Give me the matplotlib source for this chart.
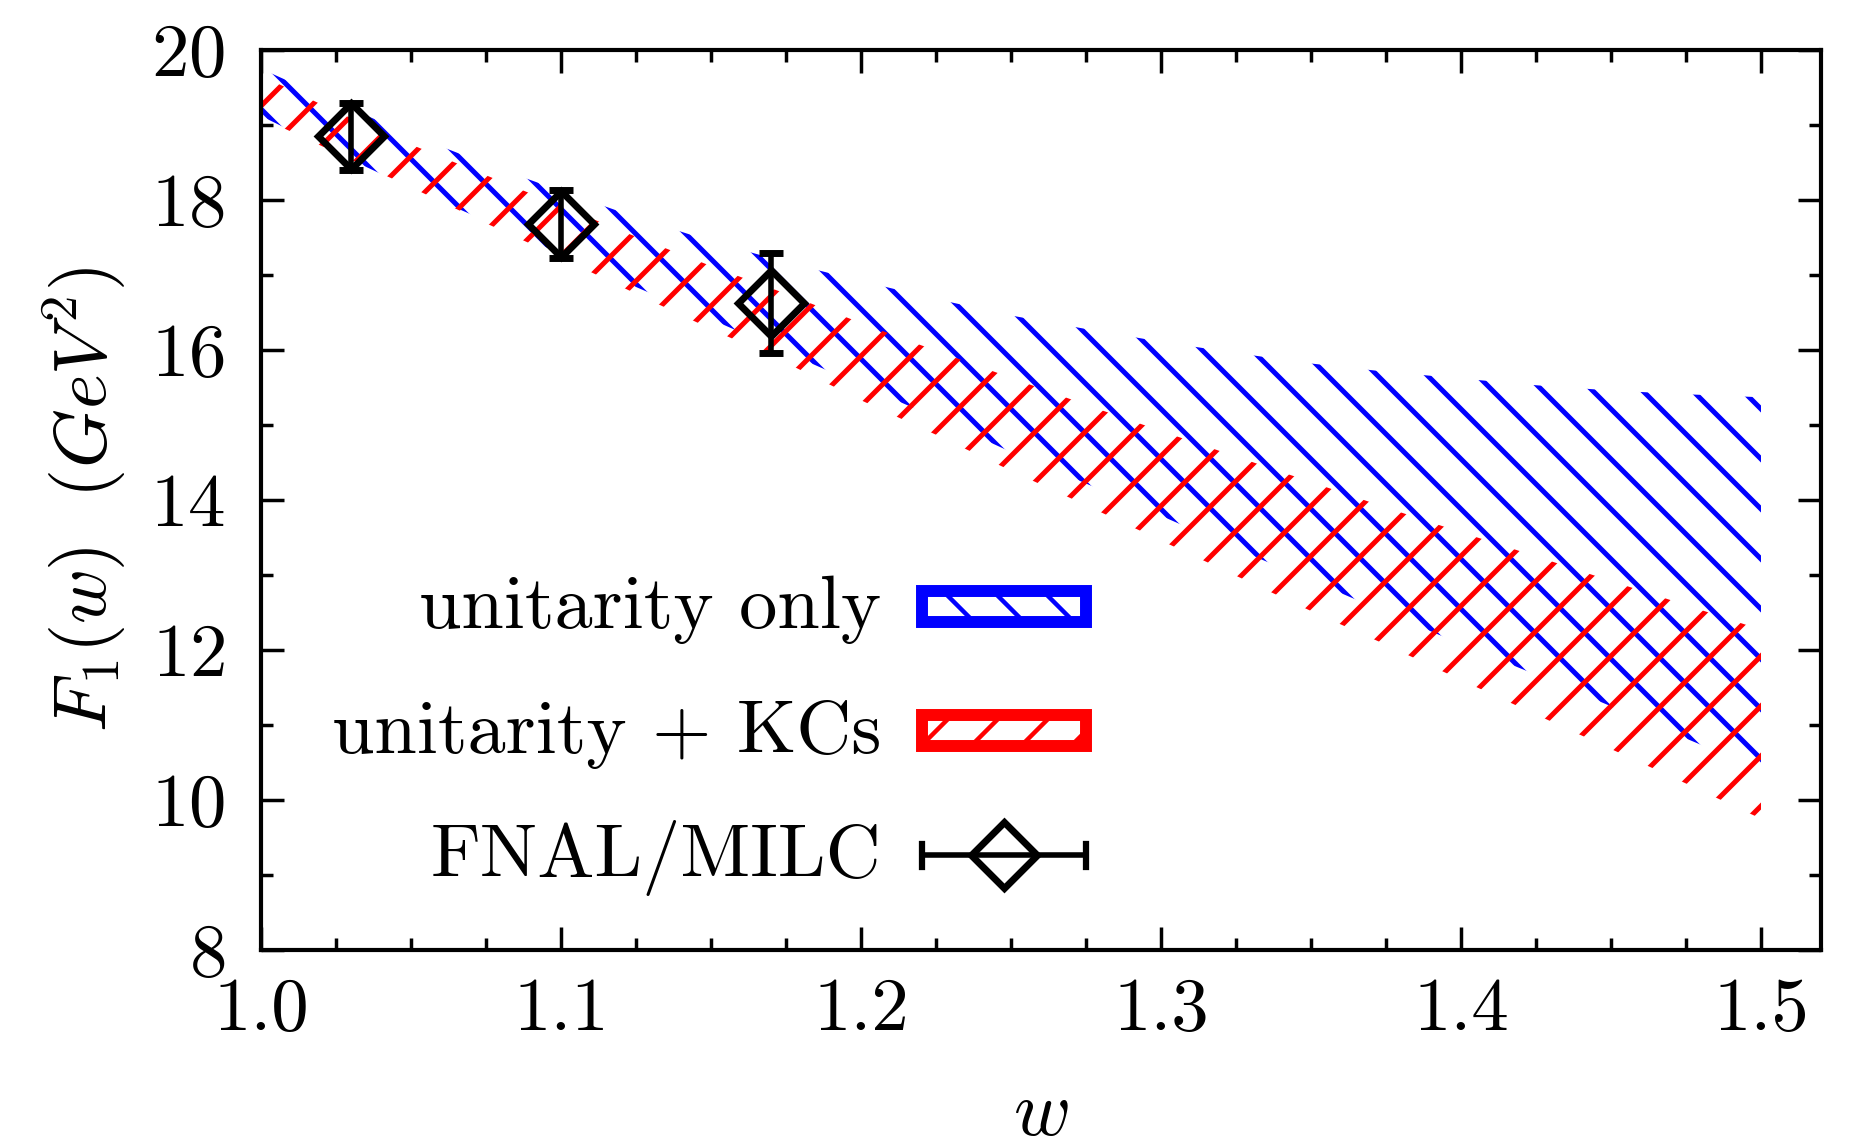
import numpy as np
import matplotlib
matplotlib.use('Agg')
import matplotlib.pyplot as plt
from matplotlib.collections import LineCollection
from matplotlib.patches import Rectangle
from matplotlib.transforms import IdentityTransform
from matplotlib.lines import Line2D
from matplotlib.ticker import MultipleLocator, FormatStrFormatter

plt.rcParams['font.family'] = 'serif'
plt.rcParams['font.serif'] = ['cmr10']
plt.rcParams['mathtext.fontset'] = 'cm'
plt.rcParams['axes.formatter.use_mathtext'] = True

# band edges
w = np.array([1.000, 1.025, 1.050, 1.075, 1.100, 1.125, 1.150, 1.175, 1.200, 1.225, 1.250,
              1.275, 1.300, 1.325, 1.350, 1.375, 1.400, 1.425, 1.450, 1.475, 1.500])
uni_hi = [19.75, 19.30, 18.87, 18.48, 18.12, 17.77, 17.45, 17.17, 16.92, 16.68, 16.46,
          16.28, 16.11, 15.96, 15.82, 15.71, 15.62, 15.53, 15.46, 15.41, 15.37]
uni_lo = [19.12, 18.63, 18.16, 17.72, 17.28, 16.84, 16.41, 15.97, 15.53, 15.10, 14.64,
          14.22, 13.79, 13.35, 12.93, 12.50, 12.08, 11.67, 11.25, 10.82, 10.40]
kc_hi = [19.66, 19.18, 18.74, 18.33, 17.92, 17.51, 17.12, 16.75, 16.36, 15.99, 15.63,
         15.27, 14.92, 14.58, 14.24, 13.90, 13.57, 13.25, 12.92, 12.60, 12.27]
kc_lo = [19.10, 18.63, 18.17, 17.69, 17.23, 16.75, 16.28, 15.83, 15.33, 14.87, 14.39,
         13.93, 13.46, 12.99, 12.52, 12.07, 11.60, 11.14, 10.68, 10.22, 9.75]

# FNAL/MILC lattice points
lat_w = [1.03, 1.10, 1.17]
lat_f = [18.85, 17.68, 16.63]
lat_err = [0.45, 0.45, 0.67]

labels = ['unitarity only', 'unitarity + KCs', 'FNAL/MILC']

W, H = 1861, 1147
fig = plt.figure(figsize=(W / 100, H / 100), dpi=100)
ax = fig.add_axes([261 / W, 1 - 950 / H, 1560 / W, 900 / H])
ax.set_xlim(1.0, 1.52)
ax.set_ylim(8, 20)


def hatch_lines(direction, phase, color, clip_path, clip_trans, target, lw=3.6):
    # 45 degree lines in pixel space, 50 px apart, anchored to the page
    segs = []
    x0, x1 = 0, W
    if direction == 'back':   # y = c - x
        cs = np.arange(phase - 50 * 40, W + H + 100, 50)
        for c in cs:
            segs.append([(x0, c - x0), (x1, c - x1)])
    else:                     # y = x + c
        cs = np.arange(phase - 50 * 40, H + 100, 50)
        for c in cs:
            segs.append([(x0, x0 + c), (x1, x1 + c)])
    lc = LineCollection(segs, colors=color, linewidths=lw, transform=IdentityTransform(),
                        capstyle='butt')
    if clip_trans is None:
        lc.set_clip_path(clip_path)
    else:
        lc.set_clip_path(clip_path, clip_trans)
    if target is ax:
        ax.add_collection(lc, autolim=False)
    else:
        fig.add_artist(lc)
    return lc


band_u = ax.fill_between(w, uni_lo, uni_hi, facecolor='none', edgecolor='none', lw=0)
band_k = ax.fill_between(w, kc_lo, kc_hi, facecolor='none', edgecolor='none', lw=0)
hatch_lines('back', 49, 'blue', band_u.get_paths()[0], ax.transData, ax)
hatch_lines('fwd', 30, 'red', band_k.get_paths()[0], ax.transData, ax)

ax.errorbar(lat_w, lat_f, yerr=lat_err, fmt='D', ms=34, mfc='none', mec='k', mew=5,
            ecolor='k', elinewidth=4, capsize=8.3, capthick=4.5, zorder=5)

# axes styling
for s in ax.spines.values():
    s.set_linewidth(3)
ax.xaxis.set_major_locator(MultipleLocator(0.1))
ax.xaxis.set_minor_locator(MultipleLocator(0.025))
ax.yaxis.set_major_locator(MultipleLocator(2))
ax.yaxis.set_minor_locator(MultipleLocator(1))
ax.xaxis.set_major_formatter(FormatStrFormatter('%.1f'))
ax.tick_params(which='both', direction='in', top=True, right=True, width=2.5, labelsize=54)
ax.tick_params(which='major', length=16.5)
ax.tick_params(which='minor', length=8.6)
ax.tick_params(axis='x', pad=20)
ax.tick_params(axis='y', pad=26)

ax.set_xlabel(r'$w$', fontsize=56)
ax.set_ylabel(r'$F_1(w)\ \ (GeV^2)$', fontsize=54)
ax.xaxis.set_label_coords(0.5, -0.145)
ax.yaxis.set_label_coords(-0.085, 0.5)


# legend, drawn by hand in figure pixels
def fp(x, y):
    return (x / W, 1 - y / H)


txt_y = [628, 753, 877]
for lab, ty in zip(labels, txt_y):
    fig.text(*fp(881, ty), lab, ha='right', va='baseline', fontsize=55)

box_cols = ['blue', 'red']
box_top = [591, 715]
box_dir = ['back', 'fwd']
box_phase = [49, 30]
for col, bt, bd, ph in zip(box_cols, box_top, box_dir, box_phase):
    x0, y0 = fp(922, bt + 31)
    inner = Rectangle((x0, y0), 164 / W, 31 / H, transform=fig.transFigure,
                      facecolor='white', edgecolor='none', zorder=2)
    fig.add_artist(inner)
    lc = hatch_lines(bd, ph, col, inner, None, fig, lw=3.2)
    lc.set_zorder(3)
    rect = Rectangle((x0, y0), 164 / W, 31 / H, transform=fig.transFigure,
                     facecolor='none', edgecolor=col, lw=8.6, zorder=4)
    fig.add_artist(rect)

ey = 855
fig.add_artist(Line2D([922 / W, 1086 / W], [fp(0, ey)[1]] * 2, transform=fig.transFigure,
                      color='k', lw=4))
for cx in [922, 1086]:
    fig.add_artist(Line2D([cx / W] * 2, [fp(0, ey - 11.5)[1], fp(0, ey + 11.5)[1]],
                          transform=fig.transFigure, color='k', lw=4.5))
fig.add_artist(Line2D([1004 / W], [fp(0, ey)[1]], transform=fig.transFigure, marker='D',
                      ms=34, mfc='none', mec='k', mew=5, ls='none'))

fig.savefig('out.png', dpi=100)
